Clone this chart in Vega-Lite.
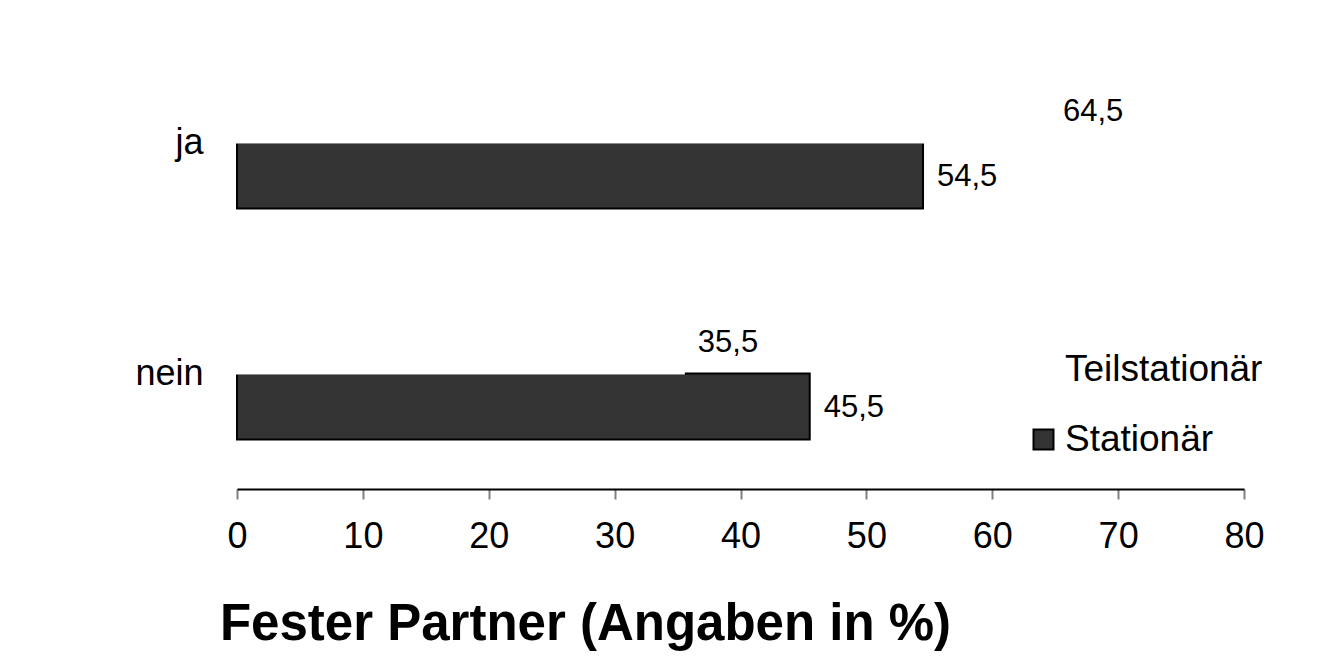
{
  "$schema": "https://vega.github.io/schema/vega-lite/v6.json",
  "width": 1007,
  "height": 462,
  "autosize": {"type": "none"},
  "padding": {"left": 237, "top": 27, "right": 93, "bottom": 180},
  "background": "white",
  "config": {
    "font": "Liberation Sans",
    "view": {"stroke": null},
    "locale": {"number": {"decimal": ",", "thousands": ".", "grouping": [3], "currency": ["", " €"]}}
  },
  "data": {
    "values": [
      {"kategorie": "ja", "gruppe": "Stationär", "wert": 54.5},
      {"kategorie": "nein", "gruppe": "Stationär", "wert": 45.5},
      {"kategorie": "ja", "gruppe": "Teilstationär", "wert": 64.5},
      {"kategorie": "nein", "gruppe": "Teilstationär", "wert": 35.5}
    ]
  },
  "encoding": {
    "y": {
      "field": "kategorie", "type": "nominal", "sort": ["ja", "nein"],
      "scale": {"paddingInner": 0.4286, "paddingOuter": 0.2143},
      "axis": {"title": null, "domain": false, "ticks": false, "labelFontSize": 36, "labelColor": "black", "labelPadding": 34, "labelFont": "Liberation Sans"}
    },
    "yOffset": {"field": "gruppe", "type": "nominal", "sort": ["Teilstationär", "Stationär"], "scale": {"paddingInner": 0, "paddingOuter": 0}},
    "x": {
      "field": "wert", "type": "quantitative",
      "scale": {"domain": [0, 80], "nice": false},
      "axis": {
        "values": [0, 10, 20, 30, 40, 50, 60, 70, 80],
        "grid": false,
        "labelFlush": false,
        "domainColor": "black", "domainWidth": 2,
        "tickColor": "#808080", "tickSize": 10, "tickWidth": 2,
        "labelFontSize": 36, "labelColor": "black", "labelPadding": 20,
        "labelFont": "Liberation Sans",
        "title": "Fester Partner (Angaben in %)",
        "titleFont": "Liberation Sans", "titleFontSize": 51, "titleFontWeight": "bold", "titleColor": "black",
        "titleX": 348, "titleY": 135, "titleAlign": "center", "titleBaseline": "middle"
      }
    }
  },
  "layer": [
    {
      "mark": {"type": "bar", "strokeWidth": 2},
      "encoding": {
        "color": {
          "field": "gruppe", "type": "nominal",
          "scale": {"domain": ["Teilstationär", "Stationär"], "range": ["white", "#333333"]},
          "legend": {
            "title": null, "orient": "none", "legendX": 788, "legendY": 324,
            "symbolType": "square", "symbolSize": 400, "symbolStrokeWidth": 2,
            "labelFontSize": 37, "labelColor": "black", "labelFont": "Liberation Sans",
            "labelOffset": 3, "rowPadding": 32, "labelLimit": 0
          }
        },
        "stroke": {
          "field": "gruppe", "type": "nominal",
          "scale": {"domain": ["Teilstationär", "Stationär"], "range": ["white", "black"]},
          "legend": {
            "title": null, "orient": "none", "legendX": 788, "legendY": 324,
            "symbolType": "square", "symbolSize": 400, "symbolStrokeWidth": 2,
            "labelFontSize": 37, "labelColor": "black", "labelFont": "Liberation Sans",
            "labelOffset": 3, "rowPadding": 32, "labelLimit": 0
          }
        }
      }
    },
    {
      "mark": {"type": "text", "align": "left", "baseline": "middle", "dx": 14, "dy": 2, "fontSize": 31, "color": "black", "font": "Liberation Sans"},
      "encoding": {
        "text": {"field": "wert", "type": "quantitative", "format": ".1f"}
      }
    }
  ]
}
